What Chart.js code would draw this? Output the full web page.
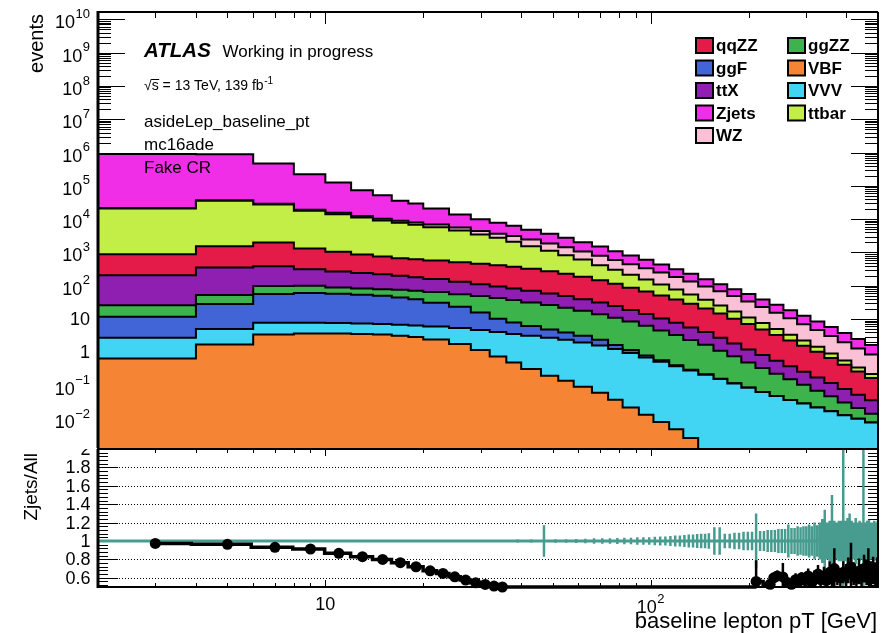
<!DOCTYPE html>
<html>
<head>
<meta charset="utf-8">
<script src="https://cdn.jsdelivr.net/npm/chart.js"></script>
<style>
html,body{margin:0;padding:0;background:#fff;}
#wrap{position:relative;width:889px;height:633px;overflow:hidden;}
canvas{position:absolute;left:0;top:0;}
</style>
</head>
<body>
<div id="wrap">
<canvas id="mainC" width="889" height="633"></canvas>
<canvas id="ratioC" width="889" height="633"></canvas>
</div>
<script>
// ---------------- data ----------------
// histogram bin edges (GeV)
const binEdges = [2,4,6,8,10,12,14,16,18,20,24,28,32,36,40,46,52,58,66,74,82,92,102,114,126,140,156,172,190,210,232,256,282,310,342,376,414,456,500];

// events per bin, one array per process (stack order bottom -> top)
const VBF   = [0.66,1.74,3.47,3.72,3.67,3.59,3.43,3.16,2.88,2.43,1.78,1.19,0.76,0.50,0.32,0.20,0.14,0.093,0.062,0.038,0.022,0.0135,0.0081,0.0049,0.0027,0.001,0,0,0,0,0,0,0,0,0,0,0,0];
const VVV   = [2.09,3.27,4.29,4.04,3.92,3.74,3.65,3.60,3.58,3.60,3.59,3.49,3.31,3.05,2.84,2.55,2.26,1.90,1.56,1.22,0.93,0.69,0.52,0.38,0.285,0.213,0.158,0.117,0.087,0.065,0.049,0.037,0.029,0.022,0.017,0.013,0.0102,0.0079];
const ggF   = [9.0,23.2,48.5,52.5,49.9,46.4,43.0,37.9,33.3,24.9,18.0,11.2,6.16,4.39,3.01,2.15,1.58,1.16,0.78,0.42,0.22,0.11,0.055,0.028,0.014,0.007,0.0035,0.002,0.001,0,0,0,0,0,0,0,0,0];
const ggZZ  = [14.5,24.3,41.5,39.7,31.6,29.5,29.3,31.2,31.0,33.7,32.8,33.1,32.4,29.2,25.4,21.4,17.9,14.6,11.7,9.28,7.34,5.49,3.99,2.89,2.04,1.48,0.96,0.642,0.414,0.274,0.180,0.118,0.078,0.049,0.031,0.0186,0.0112,0.0066];
const ttX   = [182.6,302,291,212.6,180,159.5,142,123.6,111,94,75.6,63.2,52.8,46,39.2,32.6,27.1,22,17.5,13.6,10.1,7.82,5.9,4.45,3.28,2.37,1.63,1.08,0.729,0.502,0.333,0.23,0.156,0.105,0.0723,0.0478,0.0323,0.0219];
const qqZZ  = [682,1194,1606,1005,778,628,538,476,449,417,381,350,321,289,253,216,180,146,116,90.3,68.5,53.5,40.8,31.1,23.2,16.8,12.05,8.39,5.85,4.06,2.75,1.91,1.32,0.871,0.556,0.348,0.215,0.134];
const ttbar = [20000,33900,25500,16500,13100,10350,8360,7090,6210,5180,4060,3000,2340,1740,1225,847,603,431,268.9,187.2,126.7,87.3,58.3,38.7,26.2,17.1,10.9,6.77,4.14,2.69,1.70,1.10,0.705,0.432,0.257,0.148,0.086,0.054];
const WZ    = [794,1259,1413,1413,1349,1288,1230,1175,1148,1122,1072,977,891,1038,892,730,600,445,385.5,289.8,233.3,182.6,139.2,105.8,80.2,57.1,42.7,32.2,22.5,15.4,10.6,7.2,4.77,3.20,2.17,1.44,0.95,0.64];
const Zjets = [890000,854500,438800,204700,110400,61600,42100,26500,21500,14000,8160,5560,4120,3155,2345,1779,1322,980,711.6,504.2,365.9,265.1,187.7,132.8,93.9,63.4,43.8,30.2,22.5,15.9,11.3,8.0,5.54,3.83,2.645,1.786,1.205,0.797];

// ratio panel: All/All (=1) with MC stat. error bars
const allRatio = [1,1,1,1,1,1,1,1,1,1,1,1,1,1,1,1,1,1,1,1,1,1,1,1,1,1,1,1,1,1,1,1,1,1,1,1,1,1];
const tealPt  = [27,31,35,39,43,47,51,55,59,63,67,71,75,79,83,87,91,95,99,103,107,111,115,119,123,127,131,135,139,143,147,151,157,163,169,175,181,187,193,199,205,211,217,223,229,235,241,247,253,259,265,271,277,283,289,295,301,307,313,319,325,331,337,343,349,355,361,367,373,379,385,391,397,403,409,415,421,427,433,439,445,451,457,463,469,475,481,487,493,499];
const tealErr = [0.01,0.012,0.012,0.015,0.015,0.17,0.02,0.02,0.022,0.025,0.03,0.03,0.03,0.032,0.035,0.035,0.04,0.04,0.04,0.045,0.05,0.05,0.055,0.06,0.06,0.065,0.07,0.07,0.075,0.08,0.08,0.085,0.15,0.15,0.08,0.08,0.09,0.09,0.1,0.1,0.1,0.3,0.11,0.11,0.12,0.12,0.12,0.13,0.13,0.13,0.18,0.14,0.14,0.16,0.15,0.16,0.16,0.18,0.16,0.2,0.17,0.2,0.24,0.34,0.2,0.22,0.5,0.22,0.2,0.22,0.22,1.2,0.22,0.25,0.3,0.22,0.2,0.25,0.2,0.22,0.2,1.2,0.2,0.22,0.23,0.2,0.2,0.22,0.2,0.22];

// ratio panel: Zjets/All
const zjLowPt   = [3,5,7,9,11,13,15,17,19,21,23,25,27,29,31,33,35];
const zjLow     = [0.973,0.964,0.931,0.913,0.866,0.829,0.80,0.764,0.72,0.676,0.648,0.611,0.575,0.546,0.528,0.51,0.50];
const zjFloorPt = [37,70,120,180,207];
const zjFloor   = [0.5,0.5,0.5,0.5,0.5];
const zjHighPt  = [211,233,239,245,255,263,271,279,285,291,299,305,313,319,327,333,341,347,355,361,367,375,383,391,399,405,413,421,429,437,445,453,461,467,475,483,491,497];
const zjHigh    = [0.56,0.53,0.60,0.62,0.61,0.55,0.53,0.58,0.56,0.60,0.57,0.62,0.55,0.60,0.64,0.58,0.62,0.57,0.66,0.60,0.70,0.62,0.60,0.66,0.63,0.68,0.72,0.64,0.60,0.67,0.62,0.70,0.66,0.72,0.64,0.68,0.62,0.66];
const zjHighErr = [0.23,0.06,0.05,0.06,0.15,0.06,0.05,0.07,0.06,0.06,0.08,0.08,0.07,0.08,0.10,0.08,0.10,0.09,0.12,0.10,0.22,0.10,0.10,0.12,0.12,0.14,0.26,0.12,0.12,0.14,0.13,0.15,0.14,0.20,0.14,0.15,0.15,0.16];

// tick labels
const yDecades = [-2,-1,0,1,2,3,4,5,6,7,8,9,10];
const ratioTickLabels = ['0.6','0.8','1','1.2','1.4','1.6','1.8','2'];
const xDecades = [1,2];

// ---------------- styles ----------------
const FONT = "'Liberation Sans', Arial, Helvetica, sans-serif";
const colors = {
  qqZZ:'#e41b48', ggZZ:'#3cb34b', ggF:'#4165d6', VBF:'#f58534', ttX:'#8e1fb0',
  VVV:'#42d5f3', Zjets:'#f02ee7', ttbar:'#c3ee48', WZ:'#f9c0d6'
};
const TEAL = '#489b8f';
const stack = [['VBF',VBF],['VVV',VVV],['ggF',ggF],['ggZZ',ggZZ],['ttX',ttX],['qqZZ',qqZZ],['ttbar',ttbar],['WZ',WZ],['Zjets',Zjets]];
const legendRows = [['qqZZ','ggZZ'],['ggF','VBF'],['ttX','VVV'],['Zjets','ttbar'],['WZ']];

// ---------------- build stacked datasets ----------------
const nB = binEdges.length - 1;
let running = new Array(nB).fill(0);
const mainDatasets = stack.map(([name, vals], i) => {
  running = running.map((r, j) => r + vals[j]);
  const top = running.slice();
  return {
    label: name,
    data: binEdges.map((e, j) => ({x: e, y: Math.max(top[Math.min(j, nB - 1)], 1e-7)})),
    stepped: 'before',
    fill: i === 0 ? 'start' : '-1',
    backgroundColor: colors[name],
    borderColor: '#000',
    borderWidth: 2,
    pointRadius: 0,
    tension: 0
  };
});

function seg(ctx, x1, y1, x2, y2) { ctx.beginPath(); ctx.moveTo(x1, y1); ctx.lineTo(x2, y2); ctx.stroke(); }

function drawPow(ctx, k, cx, cy, align, baseSize, expSize) {
  let base, exp = '';
  if (k === 0) base = '1';
  else if (k === 1) base = '10';
  else { base = '10'; exp = (k < 0 ? '\u2212' : '') + Math.abs(k); }
  ctx.textBaseline = 'middle';
  ctx.font = baseSize + 'px ' + FONT;
  const bw = ctx.measureText(base).width;
  ctx.font = expSize + 'px ' + FONT;
  const ew = exp ? ctx.measureText(exp).width + 0.5 : 0;
  const total = bw + ew;
  const x0 = align === 'right' ? cx - total : cx - total / 2;
  ctx.textAlign = 'left';
  ctx.font = baseSize + 'px ' + FONT;
  ctx.fillText(base, x0, cy + (exp ? 4 : 1));
  if (exp) { ctx.font = expSize + 'px ' + FONT; ctx.fillText(exp, x0 + bw + 0.5, cy - 5); }
}

const mainPlugin = {
  id: 'mainAxes',
  beforeDatasetsDraw(chart) {
    const {ctx, chartArea: a, scales: {x, y}} = chart;
    ctx.save();
    ctx.strokeStyle = '#000'; ctx.lineWidth = 1;
    for (let k = -3; k <= 10; k++) for (let m = 1; m <= 9; m++) {
      const v = m * Math.pow(10, k);
      if (v < y.min || v > y.max) continue;
      const py = Math.round(y.getPixelForValue(v)) + 0.5;
      const len = m === 1 ? 27 : 13;
      seg(ctx, a.left, py, a.left + len, py);
      seg(ctx, a.right - len, py, a.right, py);
    }
    for (let k = 0; k <= 2; k++) for (let m = 1; m <= 9; m++) {
      const v = m * Math.pow(10, k);
      if (v < x.min || v > x.max) continue;
      const px = Math.round(x.getPixelForValue(v)) + 0.5;
      const len = m === 1 ? 12 : 6;
      seg(ctx, px, a.top, px, a.top + len);
      seg(ctx, px, a.bottom - len, px, a.bottom);
    }
    ctx.restore();
  },
  afterDatasetsDraw(chart) {
    const {ctx, chartArea: a} = chart;
    ctx.save();
    ctx.strokeStyle = '#000';
    ctx.lineWidth = 2;
    seg(ctx, a.left, a.top, a.right, a.top);
    seg(ctx, a.right, a.top, a.right, a.bottom);
    ctx.lineWidth = 3;
    seg(ctx, a.left, a.top - 1, a.left, a.bottom);
    ctx.restore();
  },
  afterDraw(chart) {
    const {ctx, scales: {y}} = chart;
    ctx.save();
    ctx.fillStyle = '#000';
    yDecades.forEach(k => drawPow(ctx, k, 90, y.getPixelForValue(Math.pow(10, k)), 'right', 18, 13));
    ctx.save();
    ctx.translate(37, 14);
    ctx.rotate(-Math.PI / 2);
    ctx.font = '20px ' + FONT; ctx.textAlign = 'right'; ctx.textBaseline = 'middle';
    ctx.fillText('events', 0, 0);
    ctx.restore();
    ctx.textAlign = 'left'; ctx.textBaseline = 'alphabetic';
    ctx.font = 'italic bold 20.5px ' + FONT;
    ctx.fillText('ATLAS', 144, 57);
    ctx.font = '17px ' + FONT;
    ctx.fillText('Working in progress', 222.5, 57);
    ctx.font = '14px ' + FONT;
    const s1 = '\u221As = 13 TeV, 139 fb';
    ctx.fillText(s1, 144, 90);
    const sqw = ctx.measureText('\u221A').width;
    const sw = ctx.measureText('s').width;
    ctx.lineWidth = 1; ctx.strokeStyle = '#000';
    seg(ctx, 144 + sqw - 0.5, 79.5, 144 + sqw + sw + 0.5, 79.5);
    const w1 = ctx.measureText(s1).width;
    ctx.font = '10px ' + FONT;
    ctx.fillText('-1', 144 + w1 + 0.5, 84);
    ctx.font = '17px ' + FONT;
    ctx.fillText('asideLep_baseline_pt', 144, 126.5);
    ctx.fillText('mc16ade', 144, 149.5);
    ctx.fillText('Fake CR', 144, 172.5);
    const rowY = [45.5, 68, 90.5, 113, 135.5];
    const colX = [696, 788];
    ctx.font = 'bold 17px ' + FONT; ctx.textBaseline = 'middle';
    legendRows.forEach((row, r) => row.forEach((name, c) => {
      const bx = colX[c], by = rowY[r];
      ctx.fillStyle = colors[name];
      ctx.fillRect(bx, by - 7.5, 17, 15);
      ctx.lineWidth = 2; ctx.strokeStyle = '#000';
      ctx.strokeRect(bx, by - 7.5, 17, 15);
      ctx.fillStyle = '#000';
      ctx.fillText(name, bx + 20, by + 1);
    }));
    ctx.restore();
  }
};

new Chart(document.getElementById('mainC'), {
  type: 'line',
  data: { datasets: mainDatasets },
  options: {
    responsive: false, animation: false, devicePixelRatio: 1, events: [],
    layout: { padding: { left: 98, right: 11, top: 12, bottom: 185 } },
    scales: {
      x: { type: 'logarithmic', min: 2, max: 500, display: false },
      y: { type: 'logarithmic', min: Math.pow(10, -2.87), max: Math.pow(10, 10.22), display: false }
    },
    plugins: { legend: { display: false }, tooltip: { enabled: false }, filler: { propagate: false } }
  },
  plugins: [mainPlugin]
});

// ---------------- ratio panel ----------------
const tealBars = [];
tealPt.forEach((p, i) => { tealBars.push({x: p, y: 1 - tealErr[i]}, {x: p, y: 1 + tealErr[i]}, {x: p, y: null}); });
const zjLine = [];
zjLowPt.forEach((p, i) => zjLine.push({x: p, y: zjLow[i]}));
zjFloorPt.forEach((p, i) => zjLine.push({x: p, y: zjFloor[i]}));
zjHighPt.forEach((p, i) => zjLine.push({x: p, y: zjHigh[i]}));
const zjMarkers = [];
zjLowPt.forEach((p, i) => zjMarkers.push({x: p, y: zjLow[i]}));
zjHighPt.forEach((p, i) => zjMarkers.push({x: p, y: zjHigh[i]}));
const zjBars = [];
zjHighPt.forEach((p, i) => { zjBars.push({x: p, y: zjHigh[i] - zjHighErr[i]}, {x: p, y: zjHigh[i] + zjHighErr[i]}, {x: p, y: null}); });

const ratioDatasets = [
  { label: 'Zjets/All markers', data: zjMarkers, showLine: false, pointRadius: 5.5, pointBackgroundColor: '#000', pointBorderColor: '#000', pointBorderWidth: 0, clip: {left: 0, top: 0, right: 0, bottom: 6} },
  { label: 'Zjets/All errors', data: zjBars, borderColor: '#000', borderWidth: 2.5, pointRadius: 0, spanGaps: false },
  { label: 'Zjets/All', data: zjLine, stepped: 'middle', borderColor: '#000', borderWidth: 3.5, pointRadius: 0, clip: {left: 0, top: 0, right: 0, bottom: 3} },
  { label: 'All/All', data: binEdges.map((e, j) => ({x: e, y: allRatio[Math.min(j, nB - 1)]})), stepped: 'before', borderColor: TEAL, borderWidth: 3, pointRadius: 0 },
  { label: 'All/All errors', data: tealBars, borderColor: TEAL, borderWidth: 2.5, pointRadius: 0, spanGaps: false }
];

const ratioPlugin = {
  id: 'ratioAxes',
  beforeDatasetsDraw(chart) {
    const {ctx, chartArea: a, scales: {x, y}} = chart;
    ctx.save();
    ctx.strokeStyle = '#000'; ctx.lineWidth = 1;
    ctx.setLineDash([1, 2]);
    for (let i = 3; i <= 9; i++) {
      const py = Math.round(y.getPixelForValue(i * 0.2)) + 0.5;
      seg(ctx, a.left, py, a.right, py);
    }
    ctx.setLineDash([]);
    for (let i = 13; i <= 50; i++) {
      const v = i * 0.04;
      const py = Math.round(y.getPixelForValue(v)) + 0.5;
      const len = i % 5 === 0 ? 20 : 10;
      seg(ctx, a.left, py, a.left + len, py);
      seg(ctx, a.right - len, py, a.right, py);
    }
    for (let k = 0; k <= 2; k++) for (let m = 1; m <= 9; m++) {
      const v = m * Math.pow(10, k);
      if (v < x.min || v > x.max) continue;
      const px = Math.round(x.getPixelForValue(v)) + 0.5;
      const len = m === 1 ? 7 : 4;
      seg(ctx, px, a.top, px, a.top + len);
      seg(ctx, px, a.bottom - len, px, a.bottom);
    }
    ctx.restore();
  },
  afterDatasetsDraw(chart) {
    const {ctx, chartArea: a} = chart;
    ctx.save();
    ctx.strokeStyle = '#000'; ctx.lineWidth = 2;
    ctx.strokeRect(a.left, a.top, a.right - a.left, a.bottom - a.top);
    ctx.lineWidth = 3;
    seg(ctx, a.left, a.top, a.left, a.bottom + 1);
    ctx.restore();
  },
  afterDraw(chart) {
    const {ctx, chartArea: a, scales: {x, y}} = chart;
    ctx.save();
    ctx.fillStyle = '#000';
    ctx.save();
    ctx.beginPath(); ctx.rect(0, a.top, 889, 633 - a.top); ctx.clip();
    ctx.font = '18px ' + FONT; ctx.textAlign = 'right'; ctx.textBaseline = 'middle';
    ratioTickLabels.forEach((t, i) => ctx.fillText(t, 90.5, y.getPixelForValue(0.6 + i * 0.2) + 1));
    ctx.restore();
    ctx.save();
    ctx.translate(32, 453);
    ctx.rotate(-Math.PI / 2);
    ctx.font = '19px ' + FONT; ctx.textAlign = 'right'; ctx.textBaseline = 'middle';
    ctx.fillText('Zjets/All', 0, 0);
    ctx.restore();
    xDecades.forEach(k => drawPow(ctx, k, x.getPixelForValue(Math.pow(10, k)), 604, 'center', 18, 13));
    ctx.font = '22px ' + FONT; ctx.textAlign = 'right'; ctx.textBaseline = 'alphabetic';
    ctx.fillText('baseline lepton pT [GeV]', 877, 628);
    ctx.restore();
  }
};

new Chart(document.getElementById('ratioC'), {
  type: 'line',
  data: { datasets: ratioDatasets },
  options: {
    responsive: false, animation: false, devicePixelRatio: 1, events: [],
    layout: { padding: { left: 98, right: 11, top: 449, bottom: 46 } },
    scales: {
      x: { type: 'logarithmic', min: 2, max: 500, display: false },
      y: { type: 'linear', min: 0.5, max: 2.0, display: false }
    },
    plugins: { legend: { display: false }, tooltip: { enabled: false } }
  },
  plugins: [ratioPlugin]
});
</script>
</body>
</html>
